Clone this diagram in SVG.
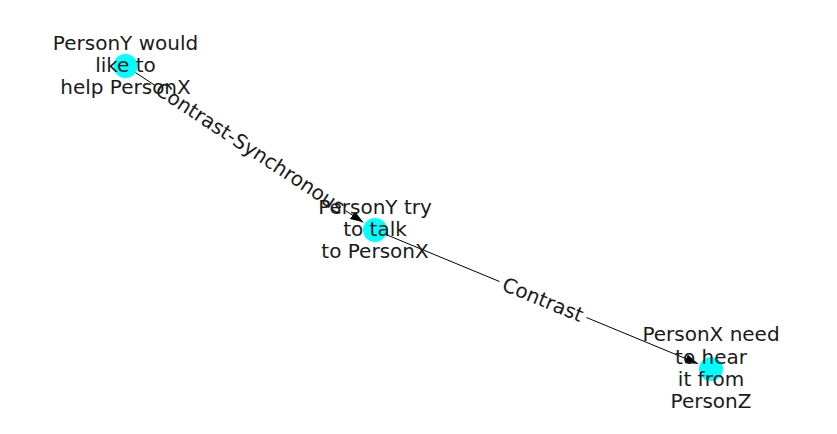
<svg xmlns="http://www.w3.org/2000/svg" width="837" height="434" viewBox="0 0 837 434">
<style>
.edge{stroke:#000;stroke-width:1;fill:none}
.node{fill:#00ffff;stroke:none}
.lbl{font-family:"DejaVu Sans",sans-serif;font-size:20px;fill:#1a1a1a;text-anchor:middle}
.elbl{font-family:"DejaVu Sans",sans-serif;font-size:20px;fill:#1a1a1a;text-anchor:middle;dominant-baseline:central}
.ebox{fill:#fff;stroke:none}
</style>
<defs>
<marker id="arr" markerWidth="13" markerHeight="10" refX="13" refY="4.5" orient="auto" markerUnits="userSpaceOnUse">
<path d="M0,0 L13,4.5 L0,9 Z" fill="#000"/>
</marker>
</defs>
<rect width="837" height="434" fill="#fff"/>
<g id="connectors">
<line class="edge" x1="125.5" y1="66" x2="363.3" y2="222.3" marker-end="url(#arr)"/>
<line class="edge" x1="375" y1="230" x2="698.1" y2="363.7" marker-end="url(#arr)"/>
</g>
<g id="edge-labels">
<g transform="translate(250.3,148) rotate(33.3)">
<rect class="ebox" x="-114" y="-10" width="228" height="20"/>
<text class="elbl" x="0" y="0">Contrast-Synchronous</text>
</g>
<g transform="translate(543,299.5) rotate(22.47)">
<rect class="ebox" x="-47" y="-10" width="94" height="20"/>
<text class="elbl" x="0" y="0">Contrast</text>
</g>
</g>
<g id="node1">
<circle class="node" cx="125.5" cy="66" r="12"/>
<text class="lbl"><tspan x="125.5" y="49.5">PersonY would</tspan><tspan x="125.5" y="71.5">like to</tspan><tspan x="125.5" y="93.5">help PersonX</tspan></text>
</g>
<g id="node2">
<circle class="node" cx="375" cy="230" r="12"/>
<text class="lbl"><tspan x="375" y="213.5">PersonY try</tspan><tspan x="375" y="235.5">to talk</tspan><tspan x="375" y="257.5">to PersonX</tspan></text>
</g>
<g id="node3">
<circle class="node" cx="711" cy="369" r="12"/>
<text class="lbl"><tspan x="711" y="341">PersonX need</tspan><tspan x="711" y="363.5">to hear</tspan><tspan x="711" y="386">it from</tspan><tspan x="711" y="408">PersonZ</tspan></text>
</g>
</svg>
